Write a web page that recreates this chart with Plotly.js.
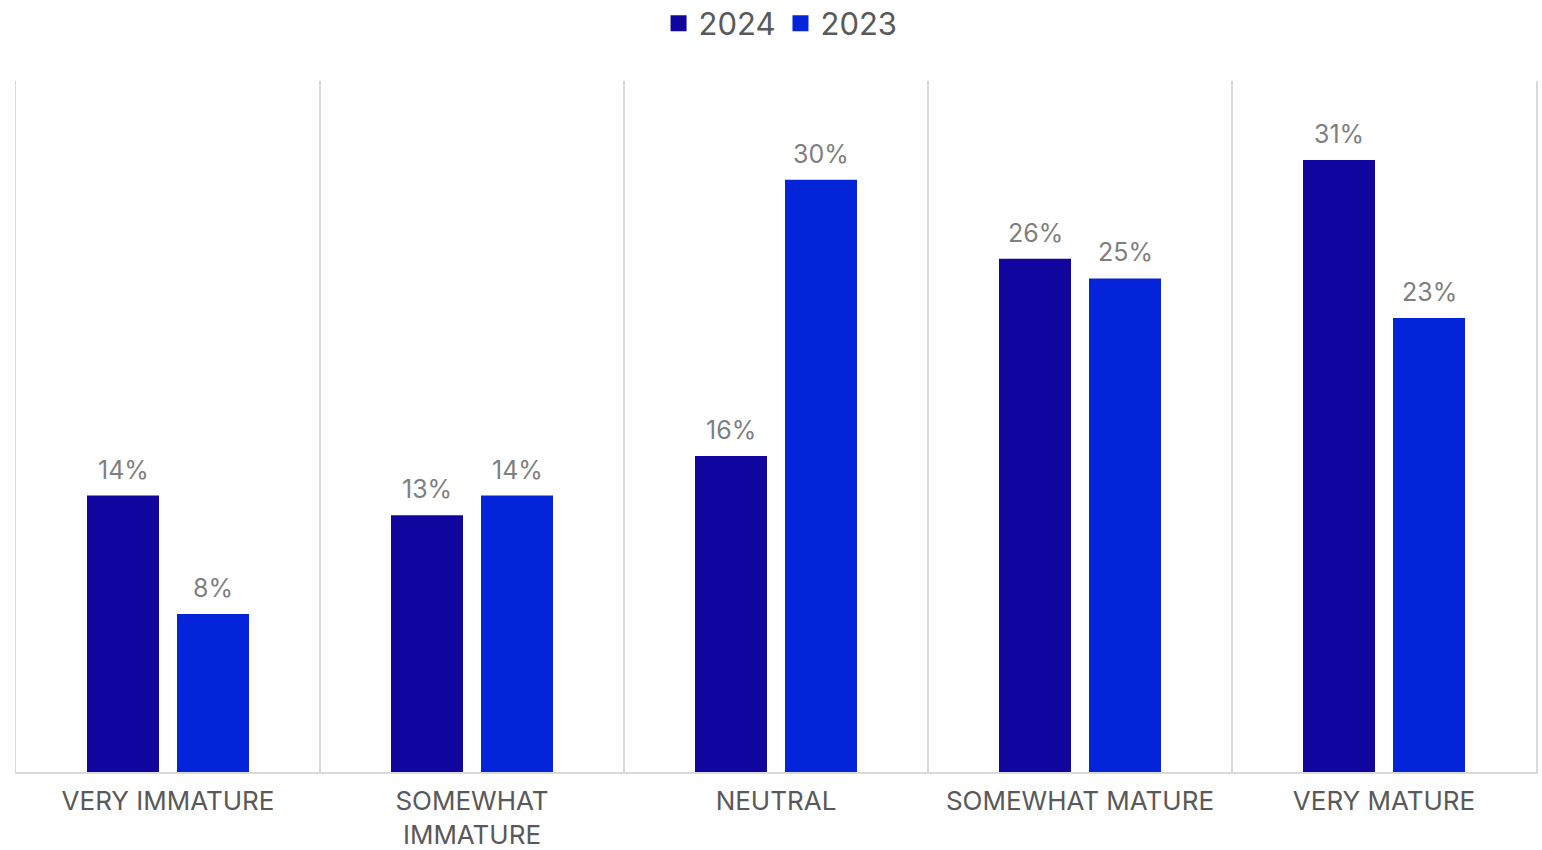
<!DOCTYPE html>
<html>
<head>
<meta charset="utf-8">
<script src="https://cdn.plot.ly/plotly-3.0.1.min.js"></script>
<style>html,body{margin:0;padding:0;background:#fff;}#chart{width:1542px;height:850px;}</style>
</head>
<body>
<div id="chart"></div>
<script>
const categories = ["VERY IMMATURE", "SOMEWHAT<br>IMMATURE", "NEUTRAL", "SOMEWHAT MATURE", "VERY MATURE"];
const values2024 = [14, 13, 16, 26, 31];
const values2023 = [8, 14, 30, 25, 23];
const seriesNames = ["2024", "2023"];
const seriesColors = ["#10069F", "#0424D9"];

const FONT = "Inter, 'Open Sans', sans-serif";
const labelFont = {family: FONT, size: 25, color: "#7f7f7f"};

const traces = [
  {type: "bar", name: seriesNames[0], x: categories, y: values2024, showlegend: false,
   marker: {color: seriesColors[0]}, hoverinfo: "skip"},
  {type: "bar", name: seriesNames[1], x: categories, y: values2023, showlegend: false,
   marker: {color: seriesColors[1]}, hoverinfo: "skip"},
  {type: "scatter", mode: "markers", name: seriesNames[0], x: [categories[0]], y: [null],
   marker: {symbol: "square", size: 18, color: seriesColors[0]}},
  {type: "scatter", mode: "markers", name: seriesNames[1], x: [categories[0]], y: [null],
   marker: {symbol: "square", size: 18, color: seriesColors[1]}}
];

const barOffset = 45;
const annotations = [];
categories.forEach((c, i) => {
  annotations.push({x: c, y: values2024[i], xref: "x", yref: "y", text: values2024[i] + "%",
    showarrow: false, xshift: -barOffset, yanchor: "bottom", yshift: 9, font: labelFont});
  annotations.push({x: c, y: values2023[i], xref: "x", yref: "y", text: values2023[i] + "%",
    showarrow: false, xshift: barOffset, yanchor: "bottom", yshift: 9, font: labelFont});
});

const layout = {
  width: 1542, height: 850,
  margin: {l: 16, r: 6, t: 81, b: 78, autoexpand: false},
  paper_bgcolor: "#fff", plot_bgcolor: "#fff",
  font: {family: FONT, color: "#595959"},
  barmode: "group", bargap: 0.408, bargroupgap: 0.2,
  showlegend: true,
  legend: {orientation: "h", x: 0.503, xanchor: "center", y: 1.083, yanchor: "middle",
           font: {size: 31, color: "#595959"}, itemclick: false, itemwidth: 20, tracegroupgap: 0},
  annotations: annotations,
  xaxis: {type: "category", tickson: "boundaries", showgrid: true, gridcolor: "#d9d9d9", gridwidth: 1.5,
          showline: true, linecolor: "#d9d9d9", linewidth: 1.5,
          ticks: "", ticklabelstandoff: 5,
          tickfont: {size: 26, color: "#595959"}, fixedrange: true},
  yaxis: {range: [0, 35], showgrid: false, zeroline: false, showticklabels: false,
          showline: true, mirror: true, linecolor: "#d9d9d9", linewidth: 1.5, fixedrange: true}
};

Plotly.newPlot("chart", traces, layout, {displayModeBar: false, staticPlot: true});
</script>
</body>
</html>
